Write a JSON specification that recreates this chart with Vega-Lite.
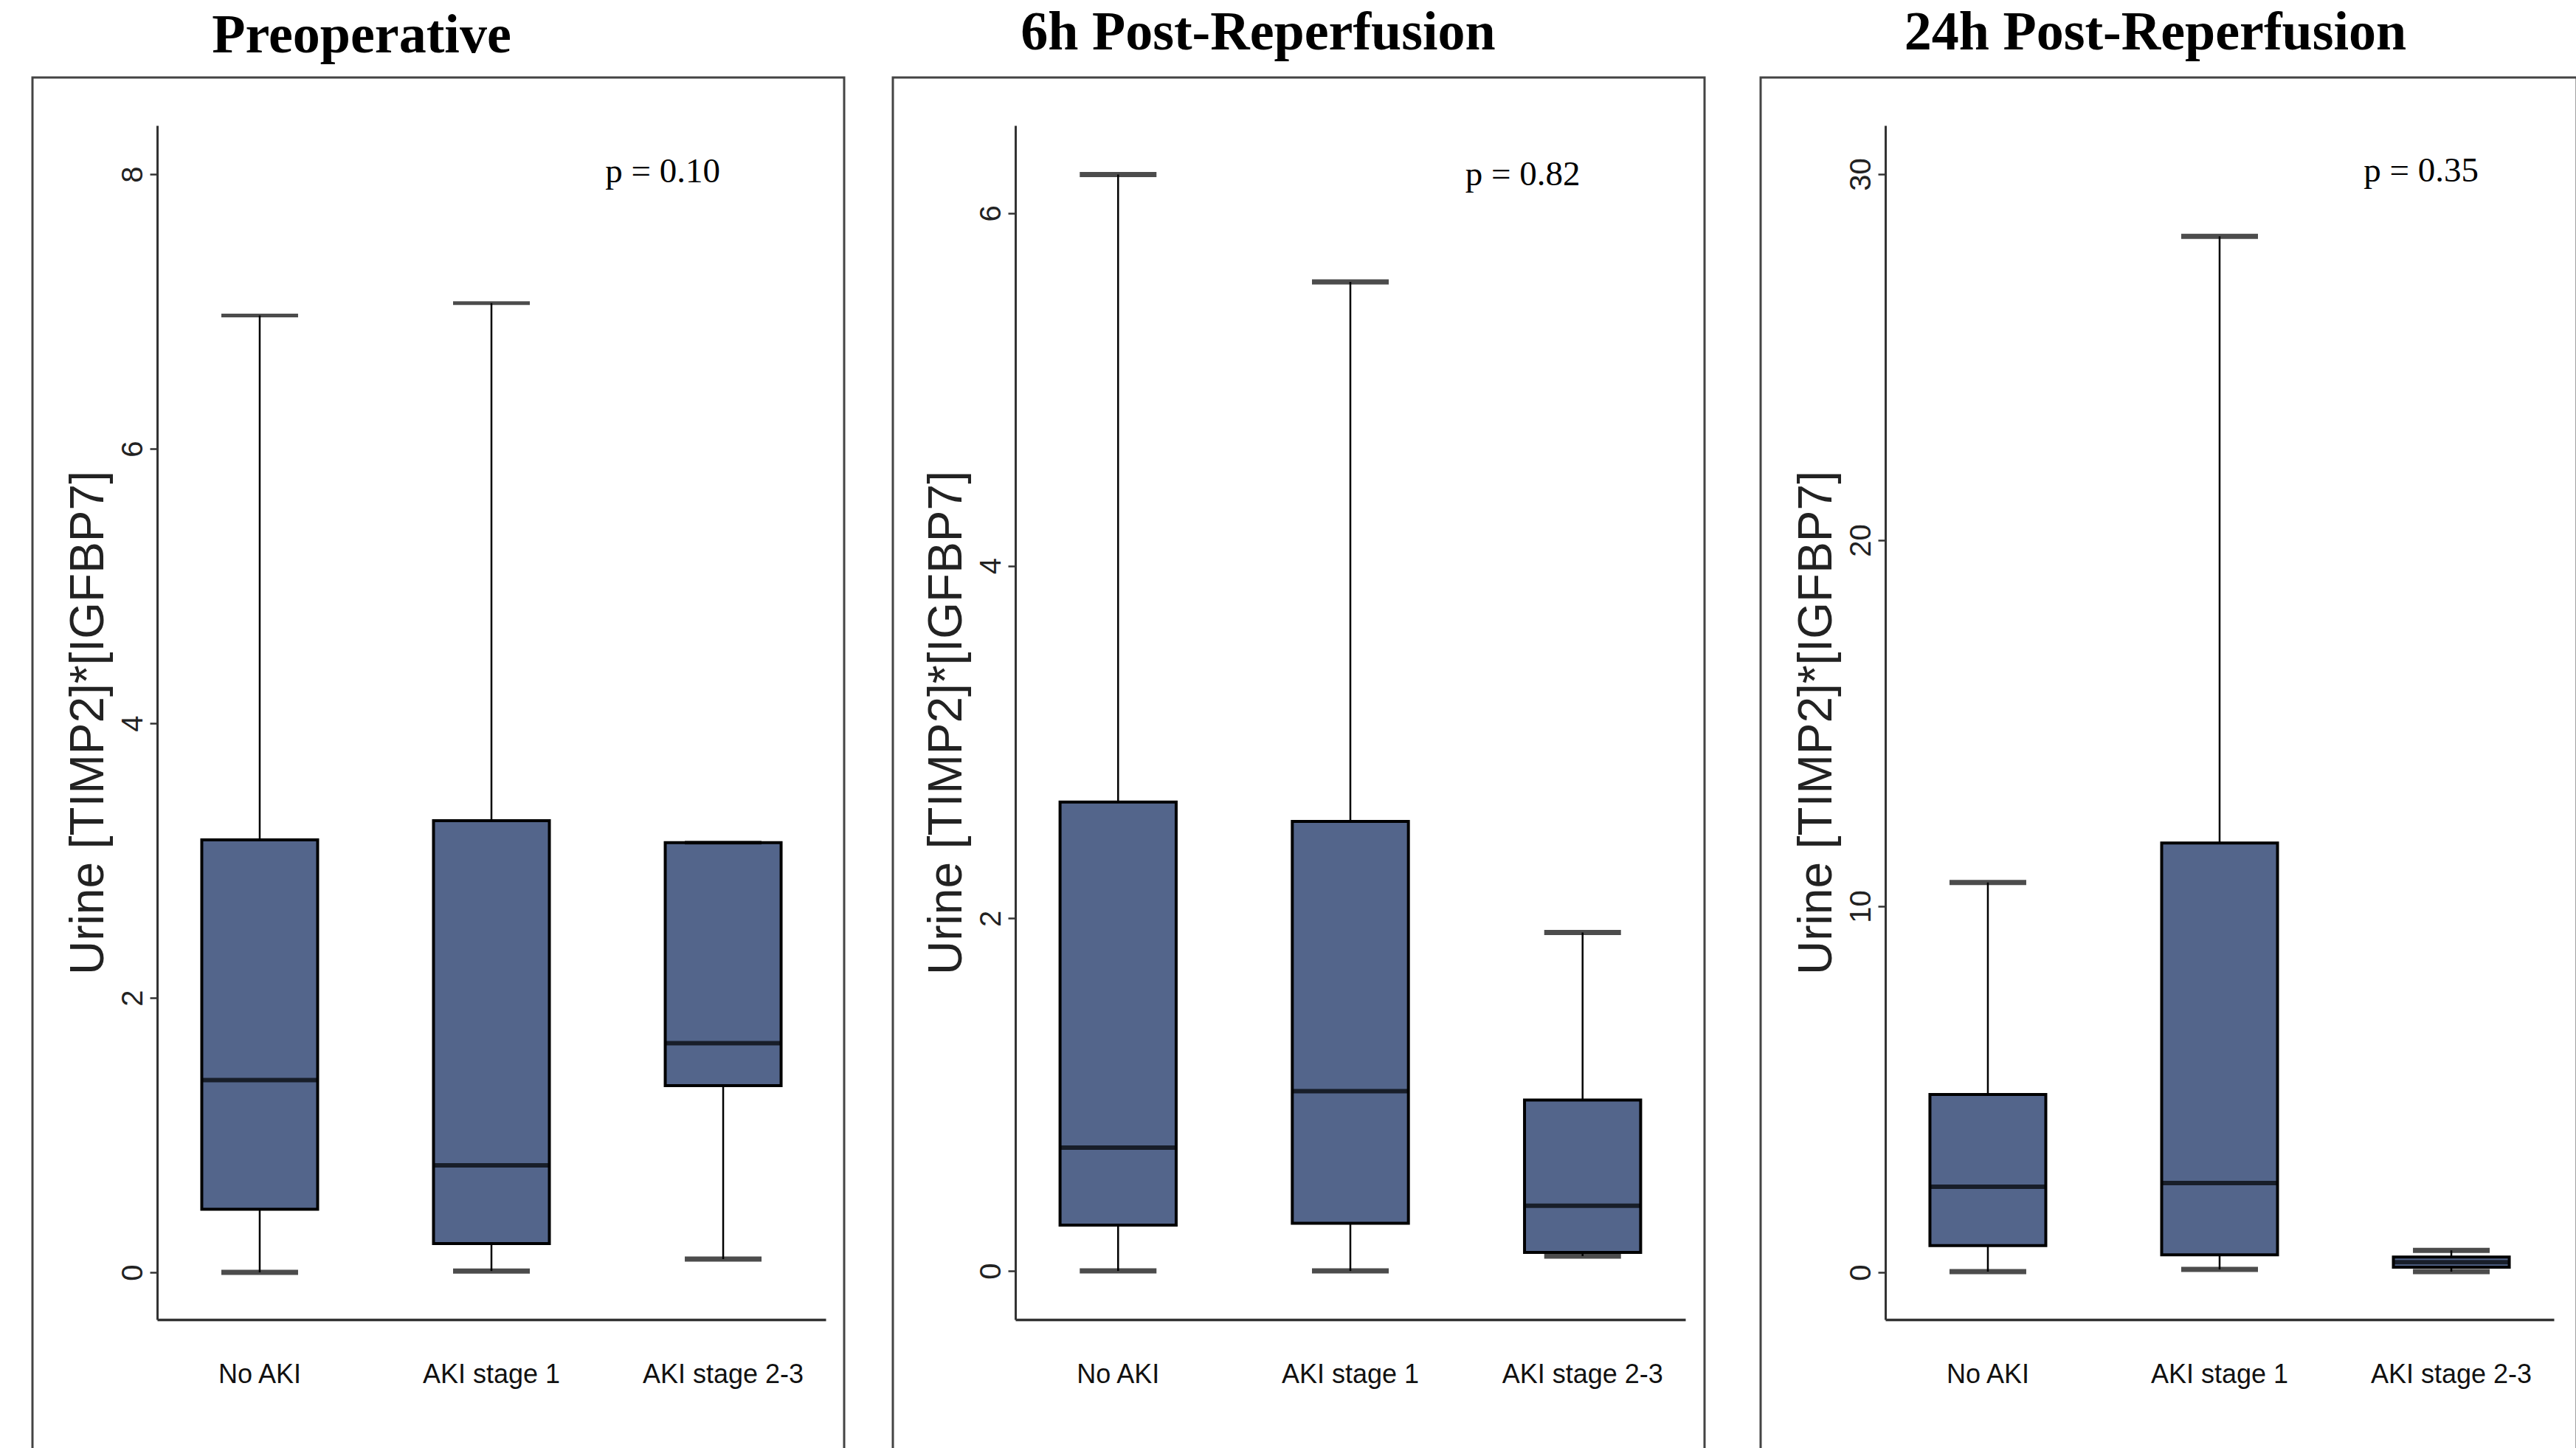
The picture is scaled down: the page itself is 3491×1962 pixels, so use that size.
{
  "$schema": "https://vega.github.io/schema/vega-lite/v6.json",
  "background": "white",
  "padding": {"left": 42, "top": 6, "right": 0, "bottom": 0},
  "spacing": 72,
  "config": {
    "view": {"stroke": "#444444", "strokeWidth": 3},
    "axisX": {
      "labelAngle": 0, "ticks": false, "tickSize": 0, "domainColor": "#333333", "domainWidth": 3.5,
      "labelFont": "Liberation Sans", "labelFontSize": 36, "labelColor": "#111111", "labelLimit": 0,
      "labelBaseline": "alphabetic", "labelPadding": 85, "offset": -197, "grid": false
    },
    "axisY": {
      "grid": false, "domainColor": "#333333", "domainWidth": 3, "tickColor": "#333333",
      "tickSize": 10, "tickWidth": 2.5, "labelAngle": 270, "labelAlign": "center", "labelBaseline": "alphabetic",
      "labelPadding": 11, "labelFont": "Liberation Sans", "labelFontSize": 40, "labelColor": "#222222",
      "labelOverlap": false, "labelFlush": false, "format": "d",
      "titleFont": "Liberation Sans", "titleFontSize": 64, "titleFontWeight": "normal", "titleColor": "#222222", "titlePadding": 8
    },
    "title": {"font": "Liberation Serif", "fontSize": 74, "fontWeight": "bold", "color": "black", "anchor": "middle"}
  },
  "datasets": {
    "pre": [
      {"group": "No AKI", "lower": 0.0, "q1": 0.46, "median": 1.40, "q3": 3.15, "upper": 6.97},
      {"group": "AKI stage 1", "lower": 0.01, "q1": 0.21, "median": 0.78, "q3": 3.29, "upper": 7.06},
      {"group": "AKI stage 2-3", "lower": 0.097, "q1": 1.36, "median": 1.67, "q3": 3.13, "upper": 3.13}
    ],
    "h6": [
      {"group": "No AKI", "lower": 0.0, "q1": 0.26, "median": 0.70, "q3": 2.66, "upper": 6.22},
      {"group": "AKI stage 1", "lower": 0.0, "q1": 0.27, "median": 1.02, "q3": 2.55, "upper": 5.61},
      {"group": "AKI stage 2-3", "lower": 0.084, "q1": 0.105, "median": 0.37, "q3": 0.97, "upper": 1.92}
    ],
    "h24": [
      {"group": "No AKI", "lower": 0.02, "q1": 0.73, "median": 2.34, "q3": 4.86, "upper": 10.65},
      {"group": "AKI stage 1", "lower": 0.08, "q1": 0.48, "median": 2.44, "q3": 11.73, "upper": 28.3},
      {"group": "AKI stage 2-3", "lower": 0.02, "q1": 0.14, "median": 0.28, "q3": 0.42, "upper": 0.60}
    ]
  },
  "hconcat": [
    {
      "spacing": 62,
      "hconcat": [
        {
          "width": 1100, "height": 1880,
          "title": {"text": "Preoperative", "dx": -104, "offset": 18},
          "data": {"name": "pre"},
          "encoding": {"x": {"field": "group", "type": "nominal", "sort": ["No AKI", "AKI stage 1", "AKI stage 2-3"], "title": null,
            "scale": {"range": [169, 1075], "paddingInner": 0.2, "paddingOuter": 0.0425}}},
          "layer": [
            {"mark": {"type": "rule", "color": "black", "strokeWidth": 2.5},
             "encoding": {"y": {"field": "q3", "type": "quantitative", "title": "Urine [TIMP2]*[IGFBP7]",
               "scale": {"domain": [-0.344, 8.355], "nice": false, "zero": false, "range": [1683, 65]},
               "axis": {"values": [0, 2, 4, 6, 8], "offset": -169}}, "y2": {"field": "upper"}}},
            {"mark": {"type": "rule", "color": "black", "strokeWidth": 2.5},
             "encoding": {"y": {"field": "lower", "type": "quantitative"}, "y2": {"field": "q1"}}},
            {"mark": {"type": "bar", "fill": "#53658b", "stroke": "black", "strokeWidth": 4, "width": {"band": 0.625}},
             "encoding": {"y": {"field": "q1", "type": "quantitative"}, "y2": {"field": "q3"}}},
            {"mark": {"type": "tick", "color": "black", "thickness": 6, "size": 157},
             "encoding": {"y": {"field": "median", "type": "quantitative"}}},
            {"mark": {"type": "tick", "color": "black", "thickness": 5, "size": 104},
             "encoding": {"y": {"field": "upper", "type": "quantitative"}}},
            {"mark": {"type": "tick", "color": "black", "thickness": 7, "size": 104},
             "encoding": {"y": {"field": "lower", "type": "quantitative"}}},
            {"data": {"values": [{"group": "AKI stage 2-3", "y": 7.94, "label": "p = 0.10"}]},
             "mark": {"type": "text", "font": "Liberation Serif", "fontSize": 47, "baseline": "alphabetic", "align": "center", "dx": -82, "color": "black"},
             "encoding": {"y": {"field": "y", "type": "quantitative"}, "text": {"field": "label"}}}
          ]
        },
        {
          "width": 1100, "height": 1880,
          "title": {"text": "6h Post-Reperfusion", "dx": -55, "offset": 22},
          "data": {"name": "h6"},
          "encoding": {"x": {"field": "group", "type": "nominal", "sort": ["No AKI", "AKI stage 1", "AKI stage 2-3"], "title": null,
            "scale": {"range": [166, 1074], "paddingInner": 0.2, "paddingOuter": 0.0425}}},
          "layer": [
            {"mark": {"type": "rule", "color": "black", "strokeWidth": 2.5},
             "encoding": {"y": {"field": "q3", "type": "quantitative", "title": "Urine [TIMP2]*[IGFBP7]",
               "scale": {"domain": [-0.276, 6.498], "nice": false, "zero": false, "range": [1683, 65]},
               "axis": {"values": [0, 2, 4, 6], "offset": -166}}, "y2": {"field": "upper"}}},
            {"mark": {"type": "rule", "color": "black", "strokeWidth": 2.5},
             "encoding": {"y": {"field": "lower", "type": "quantitative"}, "y2": {"field": "q1"}}},
            {"mark": {"type": "bar", "fill": "#53658b", "stroke": "black", "strokeWidth": 4, "width": {"band": 0.625}},
             "encoding": {"y": {"field": "q1", "type": "quantitative"}, "y2": {"field": "q3"}}},
            {"mark": {"type": "tick", "color": "black", "thickness": 6, "size": 157},
             "encoding": {"y": {"field": "median", "type": "quantitative"}}},
            {"mark": {"type": "tick", "color": "black", "thickness": 7, "size": 104},
             "encoding": {"y": {"field": "upper", "type": "quantitative"}}},
            {"mark": {"type": "tick", "color": "black", "thickness": 7, "size": 104},
             "encoding": {"y": {"field": "lower", "type": "quantitative"}}},
            {"data": {"values": [{"group": "AKI stage 2-3", "y": 6.16, "label": "p = 0.82"}]},
             "mark": {"type": "text", "font": "Liberation Serif", "fontSize": 47, "baseline": "alphabetic", "align": "center", "dx": -81, "color": "black"},
             "encoding": {"y": {"field": "y", "type": "quantitative"}, "text": {"field": "label"}}}
          ]
        }
      ]
    },
    {
      "width": 1106, "height": 1880,
      "title": {"text": "24h Post-Reperfusion", "dx": -18, "offset": 22},
      "data": {"name": "h24"},
      "encoding": {"x": {"field": "group", "type": "nominal", "sort": ["No AKI", "AKI stage 1", "AKI stage 2-3"], "title": null,
        "scale": {"range": [169, 1075], "paddingInner": 0.2, "paddingOuter": 0.0425}}},
      "layer": [
        {"mark": {"type": "rule", "color": "black", "strokeWidth": 2.5},
         "encoding": {"y": {"field": "q3", "type": "quantitative", "title": "Urine [TIMP2]*[IGFBP7]",
           "scale": {"domain": [-1.29, 31.33], "nice": false, "zero": false, "range": [1683, 65]},
           "axis": {"values": [0, 10, 20, 30], "offset": -169}}, "y2": {"field": "upper"}}},
        {"mark": {"type": "rule", "color": "black", "strokeWidth": 2.5},
         "encoding": {"y": {"field": "lower", "type": "quantitative"}, "y2": {"field": "q1"}}},
        {"mark": {"type": "bar", "fill": "#53658b", "stroke": "black", "strokeWidth": 4, "width": {"band": 0.625}},
         "encoding": {"y": {"field": "q1", "type": "quantitative"}, "y2": {"field": "q3"}}},
        {"mark": {"type": "tick", "color": "black", "thickness": 6, "size": 157},
         "encoding": {"y": {"field": "median", "type": "quantitative"}}},
        {"mark": {"type": "tick", "color": "black", "thickness": 7, "size": 104},
         "encoding": {"y": {"field": "upper", "type": "quantitative"}}},
        {"mark": {"type": "tick", "color": "black", "thickness": 7, "size": 104},
         "encoding": {"y": {"field": "lower", "type": "quantitative"}}},
        {"data": {"values": [{"group": "AKI stage 2-3", "y": 29.8, "label": "p = 0.35"}]},
         "mark": {"type": "text", "font": "Liberation Serif", "fontSize": 47, "baseline": "alphabetic", "align": "center", "dx": -41, "color": "black"},
         "encoding": {"y": {"field": "y", "type": "quantitative"}, "text": {"field": "label"}}}
      ]
    }
  ]
}
